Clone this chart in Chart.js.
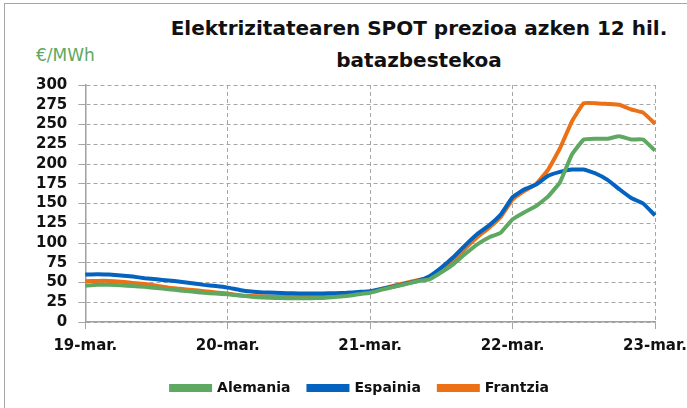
<!DOCTYPE html>
<html>
<head>
<meta charset="utf-8">
<script src="https://cdn.jsdelivr.net/npm/chart.js@4.4.0/dist/chart.umd.min.js"></script>
<style>
  html, body { margin: 0; padding: 0; background: #fff; }
  body { width: 687px; height: 408px; position: relative; overflow: hidden; font-family: "DejaVu Sans", sans-serif; }
  #marco { position: absolute; left: 4px; top: 3px; width: 700px; height: 420px; border: 1px solid #a6a6a6; }
  #titulua { position: absolute; left: 160px; width: 518px; top: 12px; text-align: center; font-weight: bold; font-size: 20px; line-height: 32px; color: #111; }
  #unitatea { position: absolute; left: 36px; top: 45px; font-size: 17px; line-height: 20px; color: #5fa862; }
  #grafikoa { position: absolute; left: 0; top: 0; }
</style>
</head>
<body>
<div id="marco"></div>
<div id="titulua">Elektrizitatearen SPOT prezioa azken 12 hil.<br>batazbestekoa</div>
<div id="unitatea">€/MWh</div>
<canvas id="grafikoa" width="687" height="408"></canvas>
<script>
// hilabeteak: 2019ko martxoa -> 2023ko martxoa
var hilIzenak = ['urt.', 'ots.', 'mar.', 'api.', 'mai.', 'eka.', 'uzt.', 'abu.', 'ira.', 'urr.', 'aza.', 'abe.'];
var hilabeteak = [];
for (var n = 0; n < 49; n++) {
  var h = (2 + n) % 12;
  var u = 19 + Math.floor((2 + n) / 12);
  hilabeteak.push(u + '-' + hilIzenak[h]);
}

// €/MWh, 12 hilabeteko batazbestekoa
var alemania = [46, 47, 47, 46.5, 45.5, 44.5, 43, 41.5, 40, 38.5, 37, 36, 35,
  33.5, 32, 31, 30.5, 30, 30, 30, 30.5, 31.5, 33, 35, 37,
  41, 44.5, 48, 51.5, 54, 63, 73, 86, 98, 107, 113, 130,
  139, 147, 159, 177, 212, 231, 232, 232, 235, 231, 231, 217];
var espainia = [60, 60.5, 60, 59, 57.5, 55.5, 54, 52.5, 51, 49, 47, 45.5, 43.5,
  40.5, 38.5, 37.5, 37, 36.5, 36, 36, 36, 36.5, 37, 38, 39,
  42, 45, 48.5, 52, 58, 69, 82, 97, 111, 122, 136, 158,
  168, 174, 185, 190, 193, 193, 188, 180, 168, 157, 150, 135];
var frantzia = [51.5, 52, 52, 51, 49.5, 48, 46, 43.5, 42, 40.5, 39, 37.5, 36,
  34, 33, 32.5, 32, 31.5, 31.5, 31.5, 32, 33, 34, 36, 38,
  42, 46, 49.5, 53, 56, 66, 78, 93, 107, 119, 133, 155,
  166, 175, 193, 220, 254, 277, 277, 276, 275, 269, 265, 251];

var yTicks = [0, 25, 50, 75, 100, 125, 150, 175, 200, 225, 250, 275, 300];

var ctx = document.getElementById('grafikoa').getContext('2d');
var letra = { family: 'DejaVu Sans', size: 15, weight: 'bold' };

function serie(izena, datuak, kolorea) {
  return {
    label: izena,
    data: datuak,
    borderColor: kolorea,
    backgroundColor: kolorea,
    borderWidth: 4,
    pointRadius: 0,
    tension: 0.1,
    fill: false
  };
}

// legenda pixka bat eskuinera (jatorrizkoan ez dago erdian)
var legendaMugitu = {
  id: 'legendaMugitu',
  afterLayout: function (chart) {
    if (chart.legend) {
      chart.legend.left += 14;
      chart.legend.right += 14;
    }
  }
};

var grafikoa = new Chart(ctx, {
  type: 'line',
  data: {
    labels: hilabeteak,
    datasets: [
      serie('Alemania', alemania, '#5fa862'),
      serie('Espainia', espainia, '#0563c0'),
      serie('Frantzia', frantzia, '#ec7014')
    ]
  },
  options: {
    responsive: false,
    animation: false,
    layout: { padding: { top: 85, left: 25, right: 20, bottom: 3 } },
    plugins: {
      title: { display: false },
      tooltip: { enabled: false },
      legend: {
        position: 'bottom',
        labels: {
          boxWidth: 39,
          boxHeight: 4,
          padding: 18,
          color: '#111',
          font: { family: 'DejaVu Sans', size: 14, weight: 'bold' }
        }
      }
    },
    scales: {
      x: {
        offset: false,
        border: { display: true, color: '#a0a0a0', width: 1.5, dash: [4, 3] },
        grid: {
          color: '#a6a6a6',
          lineWidth: 1,
          tickLength: 7,
          tickBorderDash: [],
          drawTicks: true
        },
        afterFit: function (scale) {
          // azken etiketak ertzeraino irits daiteke
          scale.paddingRight = 32;
        },
        ticks: {
          autoSkip: false,
          maxRotation: 0,
          color: '#111',
          font: letra,
          padding: 8,
          callback: function (val, i) {
            return i % 12 === 0 ? hilabeteak[i] : null;
          }
        }
      },
      y: {
        min: 0,
        max: 300,
        border: { display: true, color: '#a0a0a0', width: 1.5, dash: [4, 3] },
        afterBuildTicks: function (ax) {
          ax.ticks = yTicks.map(function (v) { return { value: v }; });
        },
        grid: {
          color: '#a6a6a6',
          lineWidth: 1,
          tickLength: 7,
          tickBorderDash: []
        },
        ticks: {
          autoSkip: false,
          color: '#111',
          font: letra,
          padding: 11
        }
      }
    }
  },
  plugins: [legendaMugitu]
});
</script>
</body>
</html>
